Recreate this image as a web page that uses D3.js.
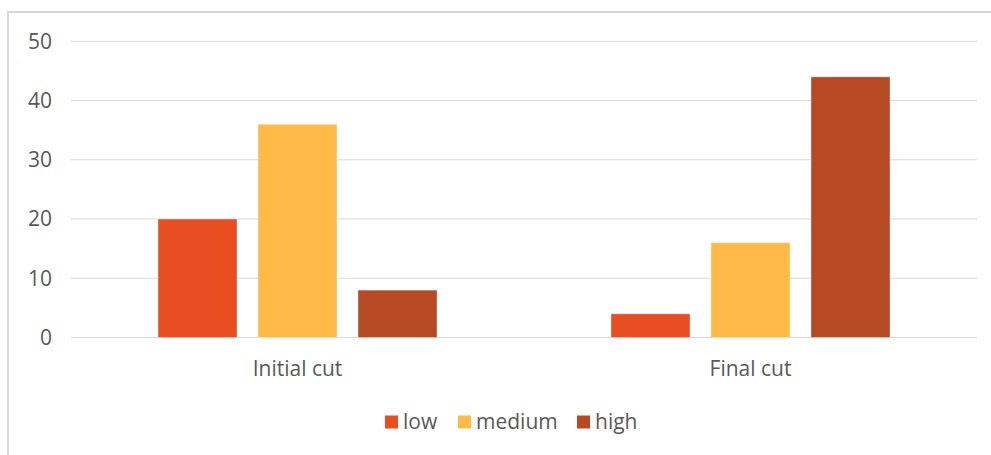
<!DOCTYPE html>
<html>
<head>
<meta charset="utf-8">
<script src="https://cdn.jsdelivr.net/npm/d3@7"></script>
<style>
  body { margin: 0; background: #fff; }
  svg { display: block; }
</style>
</head>
<body>
<div id="chart"></div>
<script>
var categories = ['Initial cut', 'Final cut']
var seriesNames = ['low', 'medium', 'high']
var low = [20, 4]
var medium = [36, 16]
var high = [8, 44]
var yTicks = [0, 10, 20, 30, 40, 50]
var colors = ['#E84E22', '#FFBA47', '#B64A25']

var seriesValues = [low, medium, high]

var width = 991, height = 455
var font = '"Open Sans", "Segoe UI", sans-serif'

var svg = d3.select('#chart')
  .append('svg')
  .attr('width', width)
  .attr('height', height)

// chart frame (only left and top edges are in view)
svg.append('path')
  .attr('d', 'M8,455 L8,12 L991,12')
  .attr('fill', 'none')
  .attr('stroke', '#d9d9d9')
  .attr('stroke-width', 2)

var plot = {left: 71, right: 977, top: 41.3, bottom: 337.5}

var y = d3.scaleLinear()
  .domain([0, 50])
  .range([plot.bottom, plot.top])

var x0 = d3.scaleBand()
  .domain(categories)
  .range([plot.left, plot.right])

var groupWidth = 279
var x1 = d3.scaleBand()
  .domain(seriesNames)
  .range([0, groupWidth])
  .paddingInner(0.21)

// gridlines
svg.append('g')
  .selectAll('line')
  .data(yTicks)
  .enter()
  .append('line')
  .attr('x1', plot.left)
  .attr('x2', plot.right)
  .attr('y1', d => y(d))
  .attr('y2', d => y(d))
  .attr('stroke', '#d9d9d9')
  .attr('stroke-width', 1)

// y axis labels
svg.append('g')
  .selectAll('text')
  .data(yTicks)
  .enter()
  .append('text')
  .attr('x', 52)
  .attr('y', d => y(d))
  .attr('dy', '0.35em')
  .attr('text-anchor', 'end')
  .style('font-family', font)
  .style('font-size', '21px')
  .style('fill', '#595959')
  .text(d => d)

// bars
var groups = svg.append('g')
  .selectAll('g')
  .data(categories)
  .enter()
  .append('g')
  .attr('transform', d => `translate(${x0(d) + (x0.bandwidth() - groupWidth) / 2},0)`)

groups.selectAll('rect')
  .data((c, ci) => seriesNames.map((s, si) => ({series: s, value: seriesValues[si][ci], color: colors[si]})))
  .enter()
  .append('rect')
  .attr('x', d => x1(d.series))
  .attr('width', x1.bandwidth())
  .attr('y', d => y(d.value))
  .attr('height', d => y(0) - y(d.value))
  .attr('fill', d => d.color)
  .attr('stroke', '#fff')
  .attr('stroke-opacity', 0.5)
  .attr('stroke-width', 0.75)

// category labels
svg.append('g')
  .selectAll('text')
  .data(categories)
  .enter()
  .append('text')
  .attr('x', d => x0(d) + x0.bandwidth() / 2)
  .attr('y', 369)
  .attr('dy', '0.35em')
  .attr('text-anchor', 'middle')
  .style('font-family', font)
  .style('font-size', '21px')
  .style('fill', '#595959')
  .text(d => d)

// legend
var legendX = [385, 458, 577]
var legend = svg.append('g')
  .selectAll('g')
  .data(seriesNames)
  .enter()
  .append('g')
  .attr('transform', (d, i) => `translate(${legendX[i]},415.5)`)

legend.append('rect')
  .attr('width', 13)
  .attr('height', 13)
  .attr('fill', (d, i) => colors[i])

legend.append('text')
  .attr('x', 18)
  .attr('y', 6.5)
  .attr('dy', '0.35em')
  .style('font-family', font)
  .style('font-size', '21px')
  .style('fill', '#595959')
  .text(d => d)
</script>
</body>
</html>
